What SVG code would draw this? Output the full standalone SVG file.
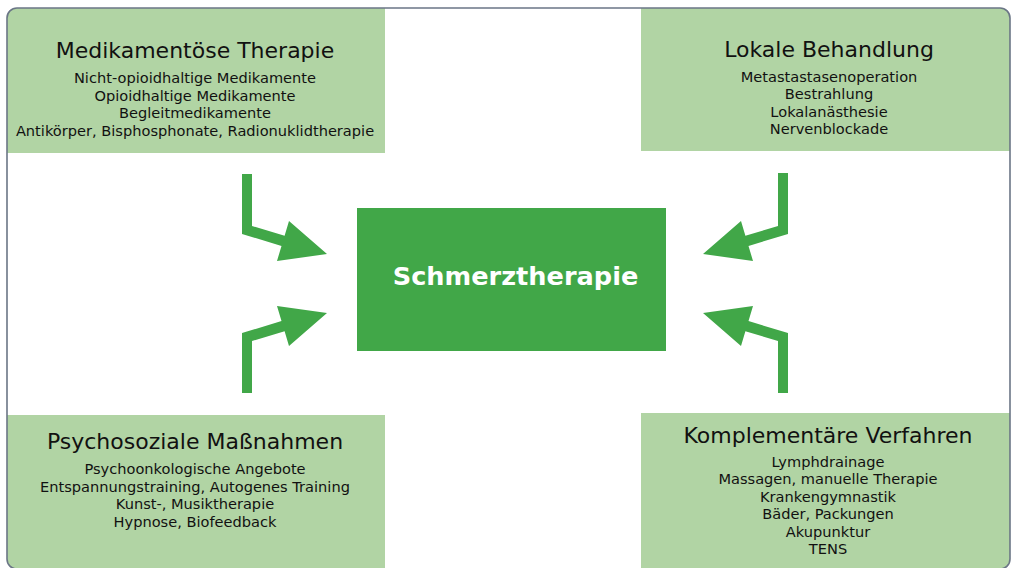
<svg xmlns="http://www.w3.org/2000/svg" width="1015" height="568" viewBox="0 0 1015 568">
  <style>
    .box { fill: #b1d4a4; }
    .title { font-family: "DejaVu Sans", Verdana, sans-serif; font-size: 22px; fill: #111111; text-anchor: middle; }
    .item { font-family: "DejaVu Sans", Verdana, sans-serif; font-size: 14.6px; fill: #111111; text-anchor: middle; }
    .arrow { fill: #41a748; }
    .center { fill: #41a748; }
    .ctext { font-family: "DejaVu Sans", Verdana, sans-serif; font-size: 25.6px; font-weight: bold; fill: #ffffff; text-anchor: middle; }
    .frame { fill: none; stroke: #6b7686; stroke-width: 1.6; }
  </style>
  <defs>
    <clipPath id="frameClip">
      <rect x="7" y="8" width="1003" height="561" rx="10" ry="10"/>
    </clipPath>
  </defs>
  <rect x="0" y="0" width="1015" height="568" fill="#ffffff"/>
  <g clip-path="url(#frameClip)">
    <g id="medikamentoese">
      <rect class="box" x="7" y="8" width="378" height="145"/>
      <text class="title" x="195" y="58">Medikamentöse Therapie</text>
      <text class="item" x="195" y="83">Nicht-opioidhaltige Medikamente</text>
      <text class="item" x="195" y="100.5">Opioidhaltige Medikamente</text>
      <text class="item" x="195" y="118">Begleitmedikamente</text>
      <text class="item" x="195" y="135.5">Antikörper, Bisphosphonate, Radionuklidtherapie</text>
    </g>
    <g id="lokale">
      <rect class="box" x="641" y="8" width="369" height="143"/>
      <text class="title" x="829" y="57">Lokale Behandlung</text>
      <text class="item" x="829" y="81.5">Metastastasenoperation</text>
      <text class="item" x="829" y="99">Bestrahlung</text>
      <text class="item" x="829" y="116.5">Lokalanästhesie</text>
      <text class="item" x="829" y="134">Nervenblockade</text>
    </g>
    <g id="psychosozial">
      <rect class="box" x="7" y="415" width="378" height="160"/>
      <text class="title" x="195" y="449">Psychosoziale Maßnahmen</text>
      <text class="item" x="195" y="474">Psychoonkologische Angebote</text>
      <text class="item" x="195" y="491.5">Entspannungstraining, Autogenes Training</text>
      <text class="item" x="195" y="509">Kunst-, Musiktherapie</text>
      <text class="item" x="195" y="526.5">Hypnose, Biofeedback</text>
    </g>
    <g id="komplementaer">
      <rect class="box" x="641" y="413" width="369" height="162"/>
      <text class="title" x="828" y="443">Komplementäre Verfahren</text>
      <text class="item" x="828" y="466.5">Lymphdrainage</text>
      <text class="item" x="828" y="484">Massagen, manuelle Therapie</text>
      <text class="item" x="828" y="501.5">Krankengymnastik</text>
      <text class="item" x="828" y="519">Bäder, Packungen</text>
      <text class="item" x="828" y="536.5">Akupunktur</text>
      <text class="item" x="828" y="554">TENS</text>
    </g>
  </g>
  <rect class="frame" x="7" y="8" width="1003" height="561" rx="10" ry="10"/>
  <g id="schmerztherapie">
    <rect class="center" x="357" y="208" width="309" height="143"/>
    <text class="ctext" x="515.5" y="285">Schmerztherapie</text>
  </g>
  <g id="connectors">
    <polygon class="arrow" points="242,174 252,174 252,226 284.6,235.8 289,221 327,254 277,261 281.5,245.9 242,234"/>
    <polygon class="arrow" points="242,393 252,393 252,341 284.6,331.2 289,346 327,313 277,306 281.5,321.1 242,333"/>
    <polygon class="arrow" points="788,173 778,173 778,226 745.4,235.8 741,221 703,254 753,261 748.5,245.9 788,234"/>
    <polygon class="arrow" points="788,393 778,393 778,341 745.4,331.2 741,346 703,313 753,306 748.5,321.1 788,333"/>
  </g>
</svg>
